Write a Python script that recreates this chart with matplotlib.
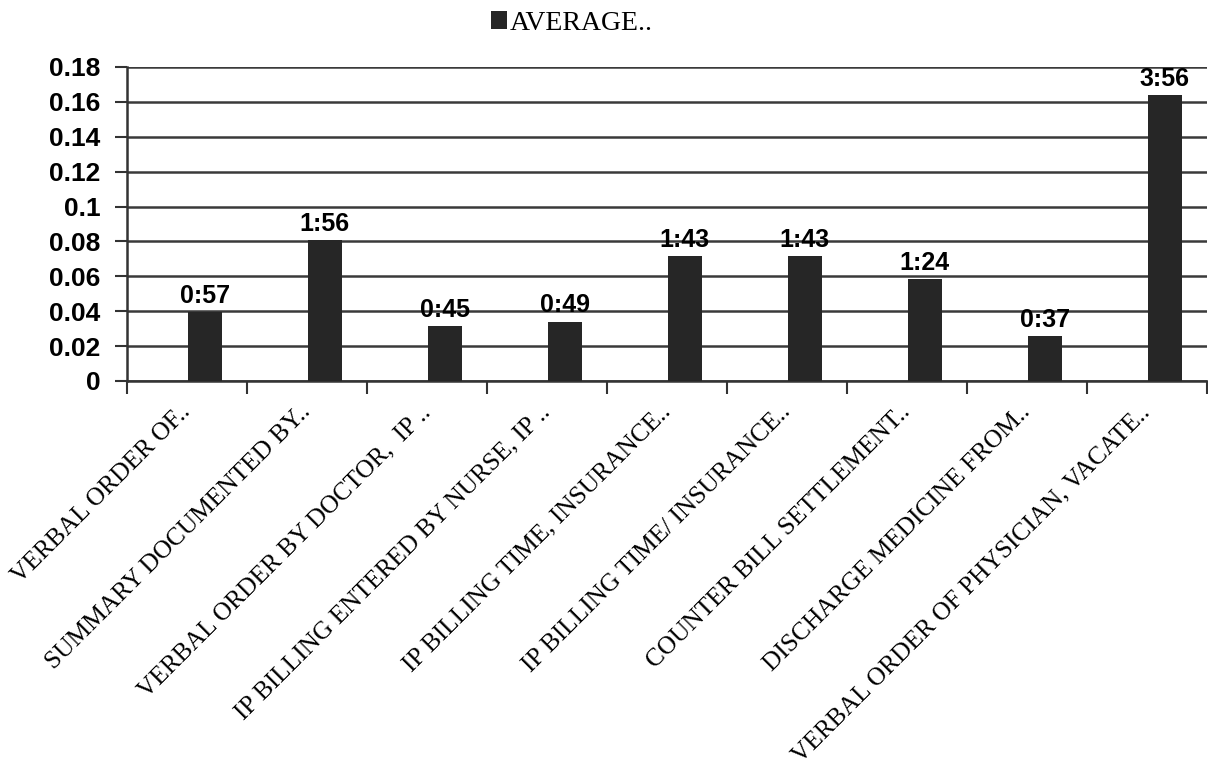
import matplotlib.pyplot as plt
import matplotlib.transforms as mtransforms
from matplotlib import font_manager

# Average time per discharge step (fraction of a day) and the labels shown on the bars
steps = [
    'VERBAL ORDER OF..',
    'SUMMARY DOCUMENTED BY..',
    'VERBAL ORDER BY DOCTOR,  IP ..',
    'IP BILLING ENTERED BY NURSE, IP ..',
    'IP BILLING TIME, INSURANCE..',
    'IP BILLING TIME/ INSURANCE..',
    'COUNTER BILL SETTLEMENT..',
    'DISCHARGE MEDICINE FROM..',
    'VERBAL ORDER OF PHYSICIAN, VACATE..',
]
average = [0.0396, 0.0806, 0.0313, 0.0340, 0.0715, 0.0715, 0.0583, 0.0257, 0.1639]
time_labels = ['0:57', '1:56', '0:45', '0:49', '1:43', '1:43', '1:24', '0:37', '3:56']
yticks = [0, 0.02, 0.04, 0.06, 0.08, 0.1, 0.12, 0.14, 0.16, 0.18]
ytick_labels = ['0', '0.02', '0.04', '0.06', '0.08', '0.1', '0.12', '0.14', '0.16', '0.18']

installed = {f.name for f in font_manager.fontManager.ttflist}
num_font = ['Liberation Sans Narrow'] if 'Liberation Sans Narrow' in installed else ['Liberation Sans']
num_font = num_font + ['DejaVu Sans']
txt_font = ['Liberation Serif', 'DejaVu Serif']

fig = plt.figure(figsize=(12.08, 7.79), dpi=100)
ax = fig.add_axes([0.105, 0.511, 0.894, 0.403])

x = list(range(len(steps)))
# the bars sit right of the category centre, as in a clustered chart with an empty second series
bars = ax.bar([i + 0.15 for i in x], average, width=0.28, color='#262626',
              label='AVERAGE..', zorder=3)

for b, t in zip(bars, time_labels):
    ax.annotate(t, (b.get_x() + b.get_width() / 2, b.get_height()),
                xytext=(0, 3), textcoords='offset points', ha='center', va='bottom',
                fontsize=18, fontweight='bold', family=num_font)

ax.set_xlim(-0.5, len(steps) - 0.5)
ax.set_ylim(0, 0.18)
ax.set_yticks(yticks)
ax.set_yticklabels(ytick_labels, family=num_font, fontsize=19, fontweight='bold')
ax.yaxis.grid(True, color='#3a3a3a', linewidth=1.8, zorder=0)
ax.set_axisbelow(True)

# category labels at the centers, tick marks at the boundaries
ax.set_xticks(x)
ax.set_xticklabels(steps, rotation=45, ha='right', va='center', rotation_mode='anchor',
                   family=txt_font, fontsize=18.3)
shift = mtransforms.ScaledTranslation(32 / 100, 0, fig.dpi_scale_trans)
for lab in ax.get_xticklabels():
    lab.set_transform(lab.get_transform() + shift)
ax.set_xticks([i - 0.5 for i in range(len(steps) + 1)], minor=True)
ax.tick_params(axis='x', which='major', length=0, pad=20)
ax.tick_params(axis='x', which='minor', length=9, width=1.5, color='#333333')
ax.tick_params(axis='y', length=9, width=1.5, color='#333333', pad=10)

for side in ['top', 'right']:
    ax.spines[side].set_visible(False)
for side in ['left', 'bottom']:
    ax.spines[side].set_color('#333333')
    ax.spines[side].set_linewidth(1.8)

ax.legend(loc='center', bbox_to_anchor=(0.412, 1.14), frameon=False,
          handlelength=0.6, handleheight=0.6, handletextpad=0.1,
          prop={'family': txt_font, 'size': 20})

fig.savefig('out.png', dpi=100)
